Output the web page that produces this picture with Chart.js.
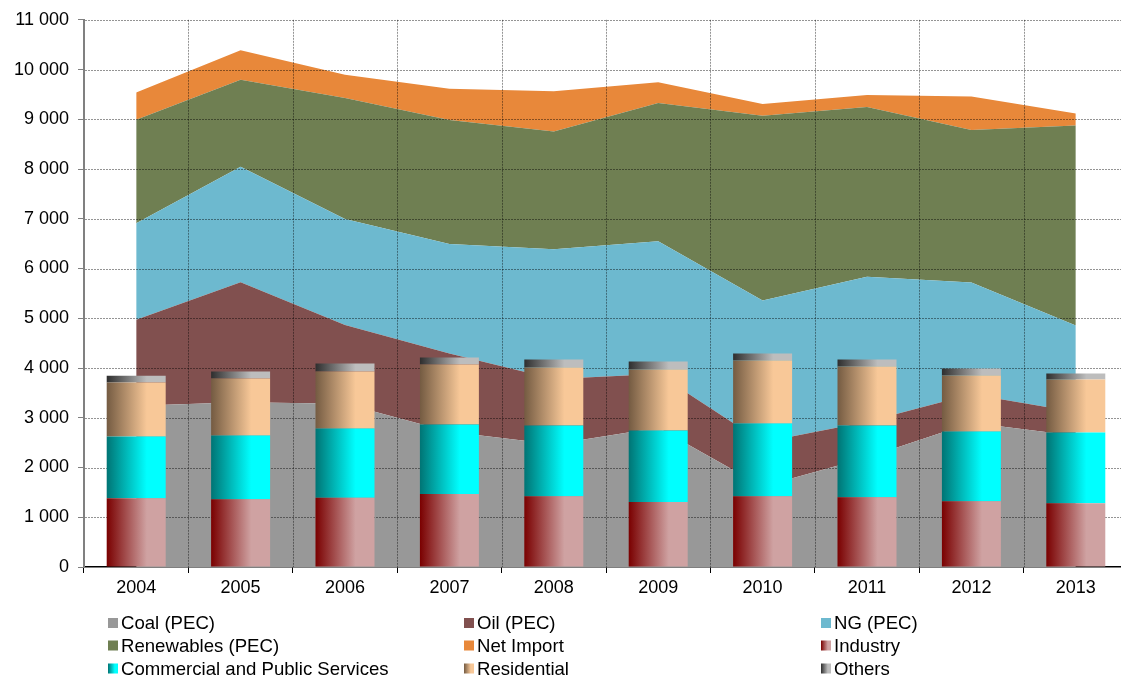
<!DOCTYPE html>
<html>
<head>
<meta charset="utf-8">
<script src="https://cdn.jsdelivr.net/npm/chart.js@4"></script>
<style>
html,body{margin:0;padding:0;background:#fff;overflow:hidden;}
canvas{display:block;}
</style>
</head>
<body>
<canvas id="c" width="1128" height="679"></canvas>
<script>
const years = ['2004','2005','2006','2007','2008','2009','2010','2011','2012','2013'];
const coal = [3240, 3310, 3280, 2720, 2470, 2800, 1620, 2200, 2900, 2640];
const oil = [1728, 2413, 1587, 1570, 1310, 1080, 890, 720, 575, 475];
const ng = [1940, 2323, 2129, 2204, 2606, 2666, 2845, 2917, 2242, 1738];
const renewables = [2082, 1747, 2430, 2490, 2369, 2779, 3715, 3408, 3066, 4023];
const netImport = [548, 597, 468, 628, 811, 422, 235, 241, 675, 240];
const industry = [1380, 1360, 1393, 1466, 1420, 1305, 1420, 1400, 1320, 1280];
const commercial = [1245, 1285, 1392, 1400, 1425, 1440, 1465, 1445, 1405, 1425];
const residential = [1085, 1145, 1145, 1205, 1165, 1225, 1265, 1185, 1125, 1065];
const others = [135, 140, 160, 140, 160, 160, 140, 140, 140, 120];
const yTicks = [0,1000,2000,3000,4000,5000,6000,7000,8000,9000,10000,11000];

const FONT = "'Liberation Sans', Arial, sans-serif";
const BAR_FRAC = 0.565;

// gradient stop definitions [dark-left, light-right]
const gradDefs = {
  industry: ['#7a0000', '#cfa2a2'],
  commercial: ['#007474', '#00ffff'],
  residential: ['#745b42', '#f8c898'],
  others: ['#2e2e2e', '#bdbdbd']
};

function makeGrad(ctx, x0, x1, def) {
  const g = ctx.createLinearGradient(x0, 0, x1, 0);
  g.addColorStop(0, def[0]);
  g.addColorStop(0.68, def[1]);
  g.addColorStop(1, def[1]);
  return g;
}

function barGrad(def) {
  return function(c) {
    const chart = c.chart;
    const xs = chart.scales && chart.scales.x;
    if (!xs || c.dataIndex === undefined || !chart.chartArea) return def[1];
    const cx = xs.getPixelForValue(c.dataIndex);
    const cw = xs.getPixelForValue(1) - xs.getPixelForValue(0);
    const w = cw * BAR_FRAC;
    if (!isFinite(cx) || !isFinite(w)) return def[1];
    return makeGrad(chart.ctx, cx - w / 2, cx + w / 2, def);
  };
}

function fmt(v) {
  return String(v).replace(/\B(?=(\d{3})+(?!\d))/g, ' ');
}

function area(label, data, color, fill) {
  return {
    type: 'line', label, data, stack: 'areas', order: 2,
    backgroundColor: color, borderColor: color, borderWidth: 0,
    pointRadius: 0, pointHoverRadius: 0, tension: 0, fill,
    legendKind: 'solid', legendColor: color
  };
}
function bar(label, data, def) {
  return {
    type: 'bar', label, data, stack: 'bars', order: 1,
    backgroundColor: barGrad(def), borderWidth: 0,
    categoryPercentage: 1, barPercentage: BAR_FRAC,
    legendKind: 'grad', legendGrad: def
  };
}

const datasets = [
  area('Coal (PEC)', coal, '#989898', 'origin'),
  area('Oil (PEC)', oil, '#81504f', '-1'),
  area('NG (PEC)', ng, '#6db9cf', '-1'),
  area('Renewables (PEC)', renewables, '#6f7f52', '-1'),
  area('Net Import', netImport, '#e8883a', '-1'),
  bar('Industry', industry, gradDefs.industry),
  bar('Commercial and Public Services', commercial, gradDefs.commercial),
  bar('Residential', residential, gradDefs.residential),
  bar('Others', others, gradDefs.others)
];

// grid drawn after the areas but before the bars
const gridOverAreas = {
  id: 'gridOverAreas',
  afterDatasetDraw(chart, args) {
    if (args.index !== 0) return;
    const ctx = chart.ctx, a = chart.chartArea;
    const xs = chart.scales.x, ys = chart.scales.y;
    ctx.save();
    ctx.strokeStyle = 'rgba(0,0,0,0.42)';
    ctx.lineWidth = 1;
    ctx.setLineDash([2, 1]);
    yTicks.forEach(v => {
      if (v === 0) return;
      const y = Math.round(ys.getPixelForValue(v)) + 0.5;
      ctx.beginPath(); ctx.moveTo(a.left + 1, y); ctx.lineTo(a.right, y); ctx.stroke();
    });
    const cw = xs.getPixelForValue(1) - xs.getPixelForValue(0);
    for (let i = 1; i <= years.length; i++) {
      const x = Math.round(xs.getPixelForValue(i) - cw / 2) + 0.5;
      ctx.beginPath(); ctx.moveTo(x, a.top); ctx.lineTo(x, a.bottom); ctx.stroke();
    }
    ctx.restore();
  }
};

const customLegend = {
  id: 'customLegend',
  afterDraw(chart) {
    const ctx = chart.ctx;
    const colX = [108, 464, 821];
    const rowY = [623, 645.5, 668.5];
    const box = 10;
    ctx.save();
    ctx.font = '18.6px ' + FONT;
    ctx.textBaseline = 'middle';
    ctx.textAlign = 'left';
    chart.data.datasets.forEach((ds, i) => {
      const x = colX[i % 3], y = rowY[Math.floor(i / 3)];
      if (ds.legendKind === 'solid') {
        ctx.fillStyle = ds.legendColor;
      } else {
        ctx.fillStyle = makeGrad(ctx, x, x + box, ds.legendGrad);
      }
      ctx.fillRect(x, y - box / 2, box, box);
      ctx.fillStyle = '#000';
      ctx.fillText(ds.label, x + box + 3, y + 1);
    });
    ctx.restore();
  }
};

new Chart(document.getElementById('c'), {
  type: 'bar',
  data: { labels: years, datasets },
  plugins: [gridOverAreas, customLegend],
  options: {
    responsive: false,
    animation: false,
    devicePixelRatio: 1,
    layout: { padding: { top: 19, left: 0, right: 0, bottom: 80 } },
    plugins: { legend: { display: false }, tooltip: { enabled: false } },
    scales: {
      x: {
        stacked: true,
        offset: true,
        grid: { offset: true, drawOnChartArea: false, tickLength: 6, color: '#000', tickColor: '#000' },
        border: { display: true, color: '#000', width: 1.5 },
        ticks: { color: '#000', font: { family: FONT, size: 18 }, padding: 4, maxRotation: 0 },
        afterFit(s) { s.height = 32; }
      },
      y: {
        stacked: true,
        min: 0, max: 11000,
        afterBuildTicks(s) { s.ticks = yTicks.map(v => ({ value: v })); },
        grid: { drawOnChartArea: false, tickLength: 6, color: '#808080', tickColor: '#808080' },
        border: { display: true, color: '#808080', width: 2 },
        ticks: { color: '#000', font: { family: FONT, size: 18 }, padding: 9, callback: v => fmt(v) },
        afterFit(s) { s.width = 84; }
      }
    }
  }
});
</script>
</body>
</html>
